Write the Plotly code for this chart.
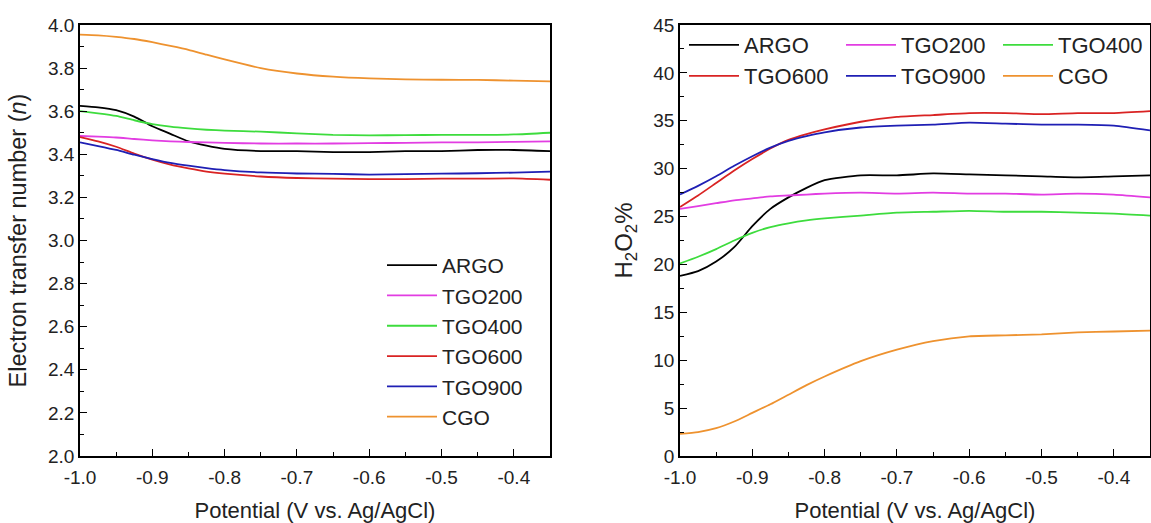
import plotly.graph_objects as go

# Potential grid (V vs. Ag/AgCl)
potential = [-1.0, -0.975, -0.95, -0.925, -0.9, -0.875, -0.85, -0.825, -0.8,
             -0.75, -0.7, -0.65, -0.6, -0.55, -0.5, -0.45, -0.4, -0.35]

series_names = ["ARGO", "TGO200", "TGO400", "TGO600", "TGO900", "CGO"]
series_colors = ["#000000", "#e23de2", "#3ddc3d", "#d92323", "#1f1fb4", "#ee922f"]

# Left panel: electron transfer number n
n_ARGO = [3.625, 3.618, 3.605, 3.575, 3.53, 3.495, 3.46, 3.44, 3.425,
          3.415, 3.415, 3.41, 3.41, 3.415, 3.415, 3.42, 3.42, 3.415]
n_TGO200 = [3.485, 3.482, 3.478, 3.471, 3.465, 3.46, 3.457, 3.455, 3.453,
            3.45, 3.45, 3.45, 3.452, 3.453, 3.455, 3.455, 3.458, 3.46]
n_TGO400 = [3.60, 3.59, 3.578, 3.558, 3.54, 3.528, 3.52, 3.514, 3.51,
            3.505, 3.497, 3.49, 3.488, 3.489, 3.49, 3.49, 3.492, 3.50]
n_TGO600 = [3.48, 3.46, 3.435, 3.403, 3.375, 3.352, 3.335, 3.32, 3.31,
            3.297, 3.29, 3.287, 3.285, 3.285, 3.287, 3.287, 3.288, 3.282]
n_TGO900 = [3.455, 3.438, 3.42, 3.398, 3.378, 3.36, 3.347, 3.336, 3.327,
            3.316, 3.311, 3.309, 3.306, 3.308, 3.31, 3.312, 3.315, 3.32]
n_CGO = [3.955, 3.952, 3.945, 3.935, 3.92, 3.903, 3.885, 3.862, 3.84,
         3.80, 3.775, 3.76, 3.752, 3.748, 3.746, 3.745, 3.742, 3.738]

# Right panel: H2O2 %
h_ARGO = [18.8, 19.3, 20.3, 21.8, 24.0, 25.8, 27.0, 28.0, 28.8,
          29.3, 29.3, 29.5, 29.4, 29.3, 29.2, 29.1, 29.2, 29.3]
h_TGO200 = [25.8, 26.1, 26.4, 26.7, 26.9, 27.1, 27.2, 27.3, 27.4,
            27.5, 27.4, 27.5, 27.4, 27.4, 27.3, 27.4, 27.3, 27.0]
h_TGO400 = [20.1, 20.8, 21.6, 22.5, 23.3, 23.9, 24.3, 24.6, 24.8,
            25.1, 25.4, 25.5, 25.6, 25.5, 25.5, 25.4, 25.3, 25.1]
h_TGO600 = [26.0, 27.2, 28.5, 29.8, 31.0, 32.1, 33.0, 33.6, 34.1,
            34.9, 35.4, 35.6, 35.8, 35.8, 35.7, 35.8, 35.8, 36.0]
h_TGO900 = [27.3, 28.2, 29.2, 30.3, 31.3, 32.2, 32.9, 33.4, 33.8,
            34.3, 34.5, 34.6, 34.8, 34.7, 34.6, 34.6, 34.5, 34.0]
h_CGO = [2.3, 2.5, 2.9, 3.6, 4.5, 5.4, 6.4, 7.4, 8.3,
         9.9, 11.1, 12.0, 12.5, 12.6, 12.7, 12.9, 13.0, 13.1]

# Tick labels (hyphen minus as in the reference)
x_tick_values = [-1.0, -0.9, -0.8, -0.7, -0.6, -0.5, -0.4]
x_tick_labels = ["-1.0", "-0.9", "-0.8", "-0.7", "-0.6", "-0.5", "-0.4"]

n_data = [n_ARGO, n_TGO200, n_TGO400, n_TGO600, n_TGO900, n_CGO]
h_data = [h_ARGO, h_TGO200, h_TGO400, h_TGO600, h_TGO900, h_CGO]
# right panel legend is two rows of three
h_legend_rows = ["legend2", "legend2", "legend2", "legend3", "legend3", "legend3"]

FONT = "Arial, Liberation Sans, sans-serif"
W, H = 1151, 523

fig = go.Figure()
for name, col, ys in zip(series_names, series_colors, n_data):
    fig.add_trace(go.Scatter(x=potential, y=ys, name=name, mode="lines",
                             line=dict(color=col, width=1.8, shape="spline", smoothing=0.6),
                             xaxis="x", yaxis="y", legend="legend"))
for name, col, ys, lg in zip(series_names, series_colors, h_data, h_legend_rows):
    fig.add_trace(go.Scatter(x=potential, y=ys, name=name, mode="lines",
                             line=dict(color=col, width=1.8, shape="spline", smoothing=0.6),
                             xaxis="x2", yaxis="y2", legend=lg))

def px_x(p):
    return p / W

def px_y(p):
    return 1 - p / H

axis_common = dict(showline=True, linecolor="black", linewidth=1.5, mirror=True,
                   ticks="inside", ticklen=7, tickwidth=1.3, tickcolor="black",
                   showgrid=False, zeroline=False, automargin=False,
                   tickfont=dict(family=FONT, size=19, color="#222"))

xdef = dict(range=[-1.0, -0.35], tickmode="array", tickvals=x_tick_values,
            ticktext=x_tick_labels, ticklabelstandoff=3,
            minor=dict(ticks="inside", ticklen=4, dtick=0.05, tick0=-1.0, tickcolor="black"),
            title=dict(text="Potential (V vs. Ag/AgCl)", standoff=16,
                       font=dict(family=FONT, size=22, color="#222")),
            **axis_common)

legend_common = dict(xanchor="left", yanchor="top", bgcolor="rgba(0,0,0,0)",
                     borderwidth=0, itemwidth=50, tracegroupgap=0,
                     font=dict(family=FONT, size=22, color="#222"))

fig.update_layout(
    width=W, height=H, autosize=False,
    margin=dict(l=0, r=0, t=0, b=0, autoexpand=False),
    paper_bgcolor="white", plot_bgcolor="white",
    font=dict(family=FONT, color="#222"),
    xaxis=dict(domain=[px_x(80), px_x(550)], anchor="y", **xdef),
    xaxis2=dict(domain=[px_x(680), px_x(1150)], anchor="y2", **xdef),
    yaxis=dict(domain=[px_y(456), px_y(25)], anchor="x", range=[2.0, 4.0], dtick=0.2,
               tickformat=".1f",
               minor=dict(ticks="inside", ticklen=4, dtick=0.1, tickcolor="black"),
               title=dict(text="Electron transfer number (<i>n</i>)", standoff=15,
                          font=dict(family=FONT, size=23.5, color="#222")),
               **axis_common),
    yaxis2=dict(domain=[px_y(456), px_y(25)], anchor="x2", range=[0, 45], dtick=5,
                minor=dict(ticks="inside", ticklen=4, dtick=2.5, tickcolor="black"),
                title=dict(text="H<sub>2</sub>O<sub>2</sub>%", standoff=14,
                           font=dict(family=FONT, size=24, color="#222")),
                **axis_common),
    legend=dict(x=px_x(382), y=px_y(245), **{**legend_common,
                "font": dict(family=FONT, size=21, color="#222")}),
    legend2=dict(x=px_x(684), y=px_y(24), orientation="h", entrywidth=92,
                 entrywidthmode="pixels", **legend_common),
    legend3=dict(x=px_x(684), y=px_y(55), orientation="h", entrywidth=92,
                 entrywidthmode="pixels", **legend_common),
    showlegend=True,
)

fig.write_html("out.html", post_script="document.body.style.margin='0';",
               config={"displayModeBar": False})
